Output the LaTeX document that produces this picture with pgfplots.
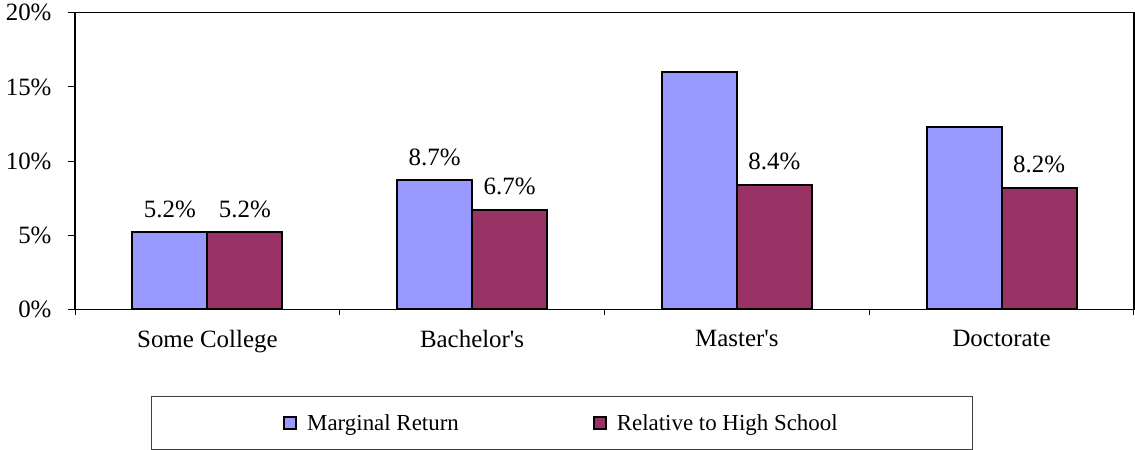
\documentclass[border=0pt]{standalone}
\usepackage{pgfplots}
\pgfplotsset{compat=1.18}
\usepackage{fontspec}
\setmainfont{Liberation Serif}
\definecolor{barblue}{HTML}{9999FF}
\definecolor{barmaroon}{HTML}{993366}
\begin{document}
\begin{tikzpicture}[x=1bp,y=1bp]
\useasboundingbox (0,0) rectangle (1135,450);
\draw[black!75, line width=1bp] (151,0.5) rectangle (972,53);
\begin{axis}[
  at={(75bp,140.5bp)}, anchor=south west,
  width=1059bp, height=296.8bp, scale only axis,
  xmin=-0.5, xmax=3.5, ymin=0, ymax=20,
  ybar=0pt, bar width=0.283,
  xtick={0,1,2,3},
  xticklabels={Some College, Bachelor\textquotesingle s, Master\textquotesingle s, Doctorate},
  major x tick style={draw=none},
  minor xtick={-0.5,0.5,1.5,2.5,3.5},
  minor tick length=6bp,
  major tick length=7bp,
  ytick={0,5,10,15,20},
  yticklabel={\pgfmathprintnumber{\tick}\%},
  /pgf/number format/assume math mode=true,
  tick align=outside,
  xtick pos=bottom, ytick pos=left,
  tick style={black, line width=1bp},
  axis line style={black, line width=1.5bp},
  every tick label/.append style={font=\fontsize{25}{30}\selectfont},
  xticklabel style={yshift=-10bp},
  yticklabel style={xshift=-13bp},
  nodes near coords,
  point meta=explicit symbolic,
  every node near coord/.append style={font=\fontsize{25}{30}\selectfont, yshift=10.5bp, black},
  legend columns=2,
  legend style={at={(rel axis cs:0.1964,-0.384)}, anchor=west, draw=none, fill=none,
    inner sep=0pt, font=\fontsize{23}{27}\selectfont,
    /tikz/every odd column/.append style={column sep=8bp},
    /tikz/every even column/.append style={column sep=132bp}},
]
\addplot[fill=barblue, draw=black, line width=2bp,
  legend image code/.code={\draw[fill=barblue, draw=black, line width=2bp] (1bp,-6bp) rectangle (13bp,6bp);}]
  coordinates {(0,5.2) [5.2\%] (1,8.7) [8.7\%] (2,16.0) [ ] (3,12.3) [ ]};
\addlegendentry{Marginal Return}
\addplot[fill=barmaroon, draw=black, line width=2bp,
  legend image code/.code={\draw[fill=barmaroon, draw=black, line width=2bp] (1bp,-6bp) rectangle (13bp,6bp);}]
  coordinates {(0,5.2) [5.2\%] (1,6.7) [6.7\%] (2,8.4) [8.4\%] (3,8.2) [8.2\%]};
\addlegendentry{Relative to High School}
\end{axis}
\end{tikzpicture}
\end{document}
